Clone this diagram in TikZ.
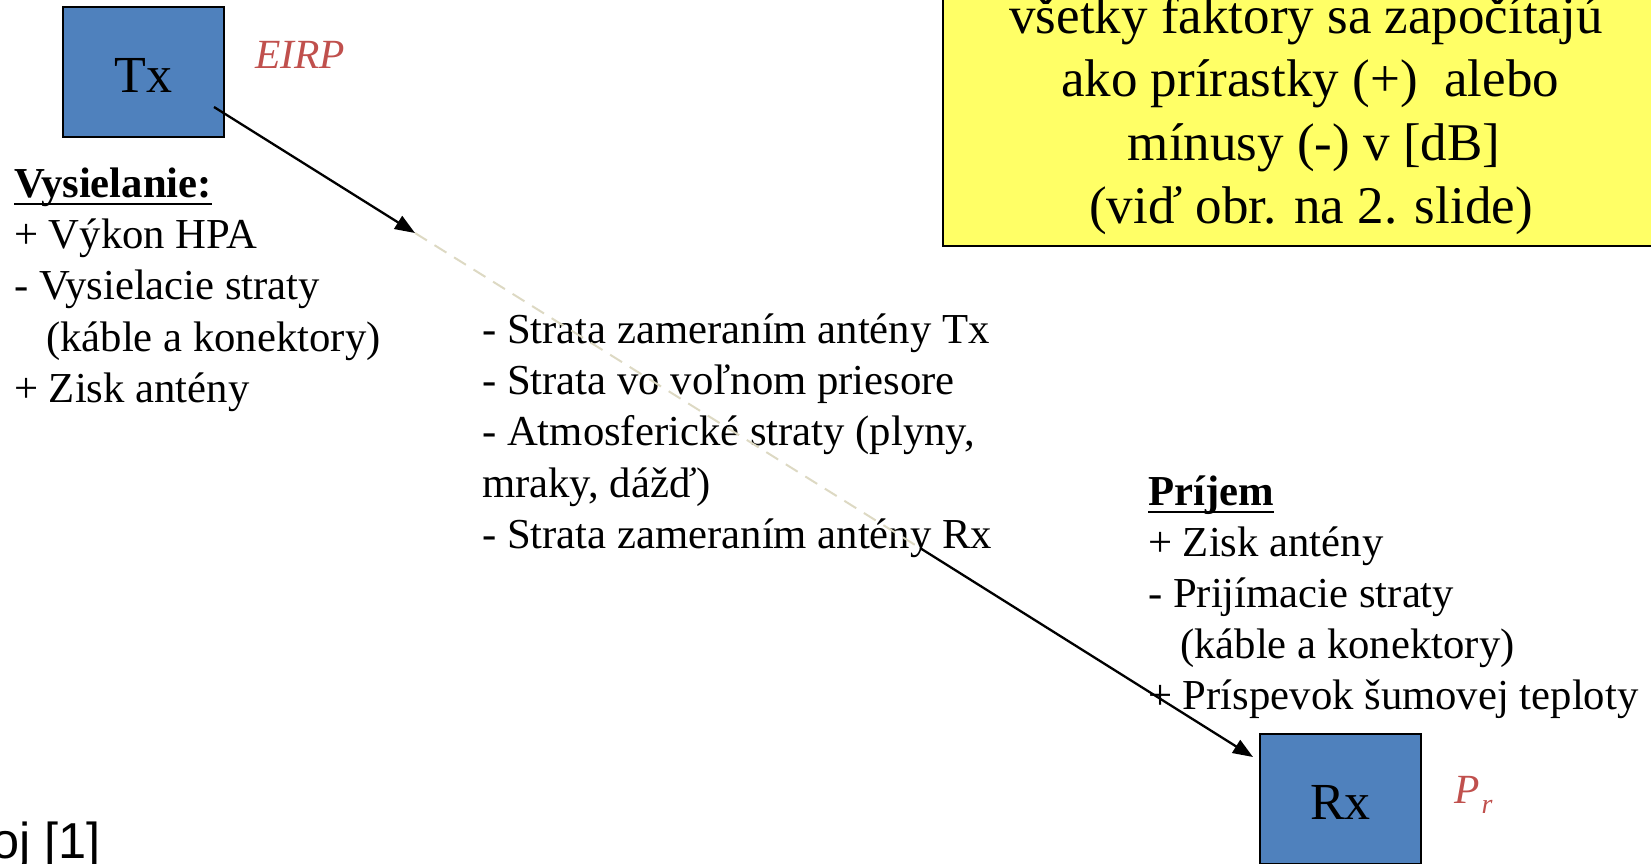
\documentclass[tikz,border=0pt]{standalone}
\usepackage{fontspec}
\setmainfont{Liberation Serif}
\newfontfamily\arialfont{Liberation Sans}
\usetikzlibrary{arrows.meta}
\definecolor{boxblue}{RGB}{79,129,189}
\definecolor{labelred}{RGB}{192,80,77}
\definecolor{noteyellow}{RGB}{255,255,102}
\definecolor{dashbeige}{RGB}{221,217,195}
\begin{document}
\begin{tikzpicture}[x=1pt,y=-1pt,
  unitbox/.style={draw=black, line width=1.2pt, fill=boxblue, minimum width=161pt, minimum height=130pt, inner sep=0pt, text height=41pt, text depth=0pt, font=\fontsize{52}{60}\selectfont},
  item/.style={anchor=base west, inner sep=0pt, font=\fontsize{42.7}{51}\selectfont},
  head/.style={anchor=base west, inner sep=0pt, font=\fontsize{42.7}{51}\selectfont\bfseries},
  noteline/.style={anchor=base, inner sep=0pt, font=\fontsize{53}{63}\selectfont},
  redlbl/.style={anchor=base west, inner sep=0pt, text=labelred, font=\fontsize{41.5}{48}\selectfont\itshape},
  uline/.style={line width=2.7pt},
  link/.style={line width=2.3pt, -{Triangle[length=20pt,width=15pt]}},
  faint/.style={line width=2pt, draw=dashbeige, dash pattern=on 14pt off 9pt}
]
\useasboundingbox (0,0) rectangle (1651,863);
\clip (0,0) rectangle (1651,863);

% yellow note
\node[draw=black, line width=1.2pt, fill=noteyellow, minimum width=747pt, minimum height=276pt, inner sep=0pt] (notebox) at (1316.5,108) {};
\node[noteline] (n1) at (1306,33) {všetky faktory sa započítajú};
\node[noteline] (n2) at (1310,96.5) {ako prírastky (+)\ \ alebo};
\node[noteline] (n3) at (1314,160) {mínusy (-) v [dB]};
\node[noteline] (n4) at (1311,223) {(viď obr. na 2. slide)};

% units
\node[unitbox] (tx) at (143.5,72) {Tx};
\node[unitbox] (rx) at (1340.5,799) {Rx};
\node[redlbl] (eirp) at (255,68) {EIRP};
\node[redlbl] (pr) at (1454,803) {P\kern2pt\raisebox{-10pt}{\fontsize{28}{30}\selectfont r}};

% transmit list
\node[head] (v0) at (14,197) {Vysielanie:};
\draw[uline] ([yshift=-7pt]v0.base west) -- ([yshift=-7pt]v0.base east);
\node[item] (v1) at (14,248) {+ Výkon HPA};
\node[item] (v2) at (14,299.5) {- Vysielacie straty};
\node[item] (v3) at (46,351) {(káble a konektory)};
\node[item] (v4) at (14,402) {+ Zisk antény};

% path list
\node[item] (m1) at (482,343) {- Strata zameraním antény Tx};
\node[item] (m2) at (482,394.3) {- Strata vo voľnom priesore};
\node[item] (m3) at (482,445.6) {- Atmosferické straty (plyny,};
\node[item] (m4) at (482,497) {mraky, dážď)};
\node[item] (m5) at (482,548) {- Strata zameraním antény Rx};

% receive list
\node[head] (p0) at (1148,505) {Príjem};
\draw[uline] ([yshift=-7pt]p0.base west) -- ([yshift=-7pt]p0.base east);
\node[item] (p1) at (1148,556) {+ Zisk antény};
\node[item] (p2) at (1148,607) {- Prijímacie straty};
\node[item] (p3) at (1180,658) {(káble a konektory)};
\node[item] (p4) at (1148,709) {+ Príspevok šumovej teploty};

% reference
\node[anchor=base east, inner sep=0pt, font=\fontsize{50.5}{58}\arialfont] (refn) at (101,858) {oj [1]};

% connectors
\coordinate (txout) at ([shift={(70.5,35)}]tx.center);
\coordinate (gap1) at (415,233);
\coordinate (gap2) at (920,548);
\coordinate (rxin) at ([shift={(-87.5,-42)}]rx.center);
\draw[link] (txout) -- (gap1);
\draw[faint] (gap1) -- (gap2);
\draw[link] (gap2) -- (rxin);
\end{tikzpicture}
\end{document}
